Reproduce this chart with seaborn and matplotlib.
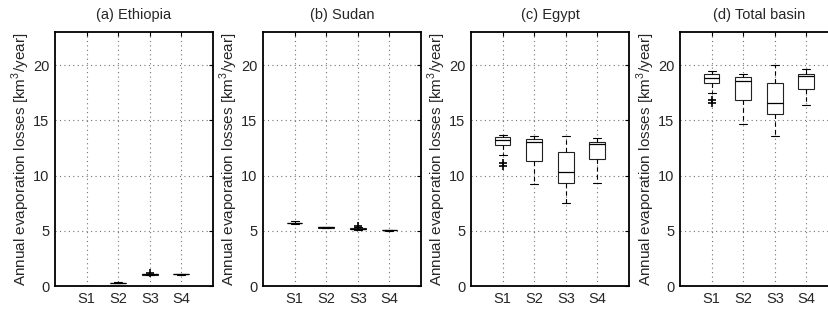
import numpy as np
import pandas as pd
import matplotlib
matplotlib.use('Agg')
import matplotlib.pyplot as plt
import seaborn as sns


scenarios = ['S1', 'S2', 'S3', 'S4']

# annual evaporation losses [km3/year] per scenario
ethiopia = {
    'S1': [0, 0, 0, 0, 0, 0, 0, 0, 0],
    'S2': [0.24, 0.25, 0.26, 0.27, 0.27, 0.28, 0.29, 0.31, 0.33],
    'S3': [0.97, 1.01, 1.03, 1.04, 1.05, 1.06, 1.07, 1.1, 1.15],
    'S4': [1.03, 1.04, 1.045, 1.05, 1.05, 1.055, 1.06, 1.065, 1.07],
}
sudan = {
    'S1': [5.6, 5.63, 5.66, 5.68, 5.7, 5.72, 5.75, 5.8, 5.85],
    'S2': [5.25, 5.27, 5.29, 5.3, 5.31, 5.32, 5.33, 5.35, 5.38],
    'S3': [5.1, 5.11, 5.12, 5.14, 5.16, 5.19, 5.22, 5.3, 5.45],
    'S4': [5.02, 5.03, 5.04, 5.045, 5.05, 5.06, 5.07, 5.08, 5.1],
}
egypt = {
    'S1': [10.9, 11.1, 11.89, 12.76, 12.95, 13.1, 13.24, 13.3, 13.4, 13.49, 13.55, 13.6, 13.63],
    'S2': [9.25, 10.6, 11.36, 12.5, 13.0, 13.15, 13.3, 13.45, 13.55],
    'S3': [7.48, 8.6, 9.34, 9.9, 10.33, 11.2, 12.1, 12.9, 13.6],
    'S4': [9.34, 10.7, 11.53, 12.4, 12.88, 12.98, 13.06, 13.25, 13.4],
}
total = {
    'S1': [16.55, 16.8, 17.5, 18.35, 18.55, 18.7, 18.86, 18.95, 19.05, 19.16, 19.3, 19.4, 19.46],
    'S2': [14.68, 16.0, 16.85, 17.9, 18.53, 18.75, 18.95, 19.1, 19.19],
    'S3': [13.6, 14.8, 15.59, 16.1, 16.6, 17.5, 18.4, 19.3, 20.0],
    'S4': [16.4, 17.2, 17.8, 18.6, 19.04, 19.12, 19.19, 19.45, 19.64],
}

panels = [('(a) Ethiopia', ethiopia), ('(b) Sudan', sudan),
          ('(c) Egypt', egypt), ('(d) Total basin', total)]


def toFrame(d):
    rows = []
    for s in scenarios:
        for v in d[s]:
            rows.append((s, v))
    return pd.DataFrame(rows, columns=['scenario', 'value'])


sns.set_style('white')
plt.rcParams['font.family'] = ['Liberation Sans', 'DejaVu Sans']
plt.rcParams['mathtext.fontset'] = 'custom'
plt.rcParams['mathtext.rm'] = 'Liberation Sans'

fig = plt.figure(figsize=(8.29, 3.09), dpi=100)

lefts = [55, 263, 471, 680]
w = 158
for (title, d), left in zip(panels, lefts):
    ax = fig.add_axes([left / 829, 1 - 286 / 309, w / 829, (286 - 32) / 309])
    df = toFrame(d)
    sns.boxplot(data=df, x='scenario', y='value', order=scenarios, ax=ax,
                width=0.5, color='white', linecolor='#222222', linewidth=0.8,
                whis=1.5,
                whiskerprops=dict(linestyle=(0, (4, 3)), color='black'),
                capprops=dict(color='black'),
                medianprops=dict(color='black', linewidth=0.9),
                flierprops=dict(marker='+', markeredgecolor='black',
                                markersize=6, markeredgewidth=1.2))
    ax.set_xlim(-1, 4)
    ax.set_ylim(0, 23)
    ax.set_yticks([0, 5, 10, 15, 20])
    ax.grid(True, linestyle=(0, (1, 3)), color='0.45', linewidth=0.8)
    ax.set_axisbelow(True)
    ax.tick_params(direction='in', length=3, top=True, right=True,
                   labelsize=10.5, color='black', width=0.8, pad=4)
    for sp in ax.spines.values():
        sp.set_visible(True)
        sp.set_color('black')
        sp.set_linewidth(1.3)
    ax.set_xlabel('')
    ax.set_ylabel('Annual evaporation losses [km$^3$/year]', fontsize=11,
                  labelpad=1)
    ax.set_title(title, fontsize=10.5, pad=9)

fig.savefig('out.png', dpi=100)
